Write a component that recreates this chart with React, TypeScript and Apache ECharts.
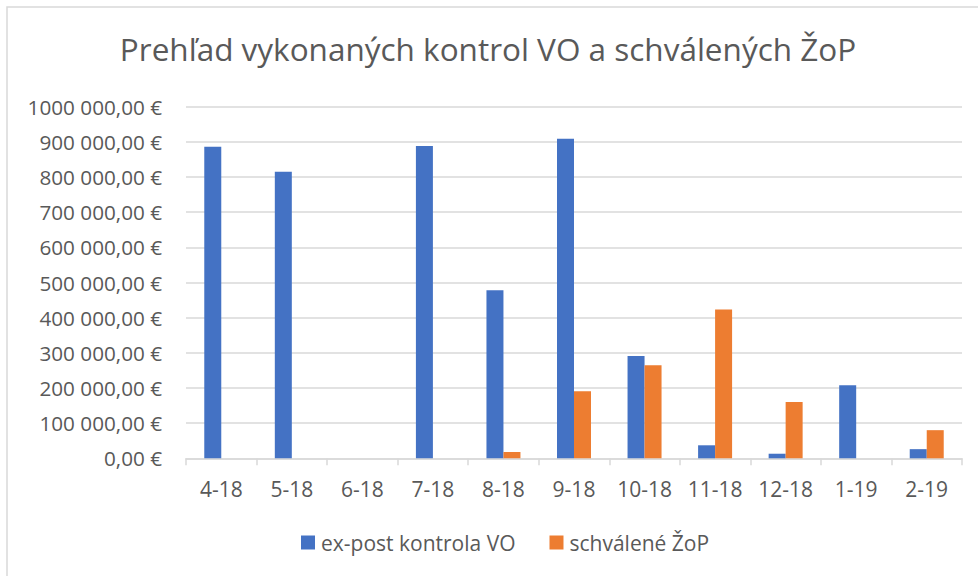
import React, { useEffect, useRef } from "react";
import * as echarts from "echarts";

const TITLE = "Prehľad vykonaných kontrol VO a schválených ŽoP";
const categories = ["4-18", "5-18", "6-18", "7-18", "8-18", "9-18", "10-18", "11-18", "12-18", "1-19", "2-19"];
const seriesNames = ["ex-post kontrola VO", "schválené ŽoP"];
const expostKontrola = [886000, 815000, 0, 888000, 478000, 909000, 291000, 37000, 13000, 208000, 26000];
const schvaleneZoP = [0, 0, 0, 0, 18000, 191000, 265000, 423000, 160000, 0, 80000];
const yTickLabels = [
  "0,00 €",
  "100 000,00 €",
  "200 000,00 €",
  "300 000,00 €",
  "400 000,00 €",
  "500 000,00 €",
  "600 000,00 €",
  "700 000,00 €",
  "800 000,00 €",
  "900 000,00 €",
  "1000 000,00 €",
];
const Y_STEP = 100000;

const FONT = "'Open Sans', 'DejaVu Sans', sans-serif";
const TEXT = "#595959";
const GRID = "#d9d9d9";

export default function App() {
  const ref = useRef<HTMLDivElement>(null);
  useEffect(() => {
    if (!ref.current) return;
    const chart = echarts.init(ref.current, null, { renderer: "svg" });
    chart.setOption({
      animation: false,
      backgroundColor: "#ffffff",
      textStyle: { fontFamily: FONT },
      title: {
        text: TITLE,
        left: 488,
        top: 32,
        padding: 0,
        textAlign: "center",
        textStyle: { fontFamily: FONT, fontSize: 31.5, fontWeight: "normal", color: TEXT },
      },
      graphic: [
        {
          type: "rect",
          shape: { x: 7, y: 7, width: 1000, height: 600 },
          style: { fill: "none", stroke: GRID, lineWidth: 1.5 },
          silent: true,
        },
      ],
      legend: {
        left: 301,
        top: 532,
        padding: 0,
        icon: "rect",
        itemWidth: 14,
        itemHeight: 14,
        itemGap: 34,
        textStyle: { fontFamily: FONT, fontSize: 21, color: TEXT, padding: [0, 0, 0, 1] },
        data: seriesNames,
      },
      grid: { left: 186, right: 16, top: 106.7, bottom: 117.7, containLabel: false },
      xAxis: {
        type: "category",
        data: categories,
        axisLine: { lineStyle: { color: GRID, width: 1.5 } },
        axisTick: { show: true, interval: 0, length: 7, lineStyle: { color: GRID, width: 1.5 } },
        axisLabel: { interval: 0, hideOverlap: false, fontFamily: FONT, fontSize: 21, color: TEXT, margin: 20 },
      },
      yAxis: {
        type: "value",
        min: 0,
        max: 1000000,
        interval: Y_STEP,
        axisLine: { show: false },
        axisTick: { show: false },
        splitLine: { lineStyle: { color: GRID, width: 1.5 } },
        axisLabel: {
          fontFamily: FONT,
          fontSize: 20.7,
          color: TEXT,
          margin: 24,
          formatter: (v: number) => yTickLabels[Math.round(v / Y_STEP)] ?? "",
        },
      },
      series: [
        {
          name: seriesNames[0],
          type: "bar",
          data: expostKontrola,
          barWidth: 17,
          barGap: "0%",
          itemStyle: { color: "#4472c4" },
        },
        {
          name: seriesNames[1],
          type: "bar",
          data: schvaleneZoP,
          barWidth: 17,
          barGap: "0%",
          itemStyle: { color: "#ed7d31" },
        },
      ],
    });
    return () => chart.dispose();
  }, []);
  return (
    <div
      ref={ref}
      style={{ position: "fixed", left: 0, top: 0, width: 978, height: 576, background: "#fff" }}
    />
  );
}
